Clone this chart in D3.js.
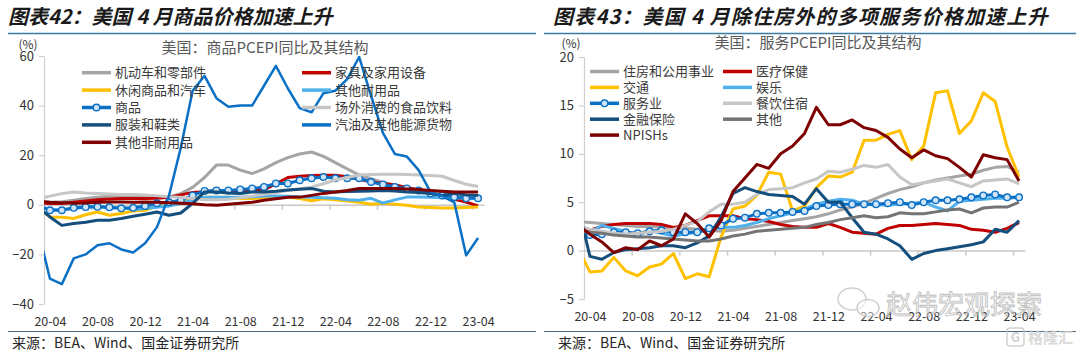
<!DOCTYPE html>
<html>

<head>
    <meta charset='utf-8'>
    <title>PCEPI</title>
    <script type='text/javascript' src='https://cdn.jsdelivr.net/npm/d3@7'></script>
    <style>
        body { margin: 0; background: #fff; }
        text { font-family: 'Noto Sans CJK SC', 'Liberation Sans', sans-serif; }
    </style>
</head>

<body>
    <svg width='1080' height='353'></svg>
    <script type='text/javascript'>

        // 月份（第一个 20-03 只用于左端被裁掉的线段）
        const months = ['20-03', '20-04', '20-05', '20-06', '20-07', '20-08', '20-09', '20-10', '20-11', '20-12',
            '21-01', '21-02', '21-03', '21-04', '21-05', '21-06', '21-07', '21-08', '21-09', '21-10', '21-11', '21-12',
            '22-01', '22-02', '22-03', '22-04', '22-05', '22-06', '22-07', '22-08', '22-09', '22-10', '22-11', '22-12',
            '23-01', '23-02', '23-03', '23-04']
        const xLabels = ['20-04', '20-08', '20-12', '21-04', '21-08', '21-12', '22-04', '22-08', '22-12', '23-04']

        // 图表42 商品
        const goodsTicks = [-40, -20, 0, 20, 40, 60]
        const motorVehicles = [1.5, 1.0, 1.2, 1.8, 2.5, 3.0, 3.5, 3.5, 3.5, 3.6, 3.4, 3.2, 4.5, 7.0, 11.0, 16.0, 16.0, 14.0, 12.6, 14.5, 17.0, 19.0, 20.5, 21.3, 19.5, 17.0, 14.5, 12.0, 10.5, 9.0, 8.0, 7.0, 6.0, 5.5, 5.0, 4.5, 4.0, 3.5]
        const furniture = [0.8, 0.5, 0.5, 1.0, 1.5, 2.0, 2.3, 2.5, 2.5, 2.5, 2.6, 3.0, 4.0, 5.0, 5.3, 5.5, 5.5, 5.6, 5.8, 6.0, 8.5, 11.0, 11.5, 11.8, 11.9, 11.9, 11.3, 10.3, 9.3, 8.6, 8.0, 7.0, 6.0, 4.5, 3.2, 2.2, 1.1, -0.5]
        const recGoods = [-1.0, -4.9, -5.0, -5.5, -4.0, -2.9, -4.2, -3.5, -2.5, -2.2, -0.5, 0.0, 0.6, 2.6, 3.0, 3.0, 3.0, 2.5, 2.5, 2.8, 3.0, 3.1, 2.5, 1.6, 2.4, 2.0, 1.5, 1.0, 0.2, 0.6, 0.2, -0.2, -0.9, -1.1, -1.3, -1.3, -1.1, -0.9]
        const otherDurables = [0.0, -2.0, -2.0, -1.5, -1.0, -0.5, -1.5, -1.0, -2.0, -1.5, -1.0, -0.5, 0.5, 2.0, 3.0, 3.0, 3.0, 3.0, 3.2, 3.5, 3.5, 3.4, 3.1, 3.0, 2.8, 2.6, 2.0, 1.8, 2.6, 0.7, 2.0, 3.1, 3.1, 3.0, 2.8, 2.6, 2.8, 2.6]
        const goods = [-0.5, -2.2, -2.2, -1.2, -0.9, -0.8, -1.0, -1.4, -1.2, -0.5, 0.6, 1.0, 1.8, 3.8, 5.6, 5.8, 5.8, 6.2, 6.6, 7.2, 8.6, 8.6, 9.9, 10.7, 11.2, 10.7, 10.7, 10.7, 9.2, 8.2, 7.2, 6.6, 5.8, 4.6, 3.8, 3.1, 2.6, 2.6]
        const foodOffPremises = [2.5, 3.5, 4.5, 5.2, 4.8, 4.6, 4.4, 4.2, 4.2, 4.0, 3.6, 3.2, 3.0, 2.5, 2.0, 2.0, 2.2, 2.8, 3.5, 4.2, 5.0, 5.8, 6.5, 7.2, 8.5, 10.0, 11.0, 12.0, 12.2, 12.3, 12.3, 12.2, 12.0, 11.8, 11.5, 9.8, 8.3, 7.4]
        const apparel = [-1.0, -4.9, -8.3, -7.5, -7.0, -6.2, -6.2, -5.5, -4.6, -3.8, -2.9, -4.2, -3.3, 0.6, 5.2, 5.2, 4.8, 4.6, 5.2, 5.2, 5.5, 6.0, 6.3, 6.6, 5.5, 5.2, 5.4, 5.5, 5.6, 5.8, 5.6, 5.2, 5.0, 4.6, 3.8, 4.6, 4.0, 3.8]
        const gasoline = [-10.0, -29.8, -32.0, -21.6, -20.0, -16.3, -15.5, -18.0, -19.2, -15.5, -9.0, 3.5, 23.0, 46.0, 52.0, 43.0, 39.5, 40.0, 40.0, 48.0, 56.0, 47.0, 39.0, 37.3, 45.0, 46.0, 50.7, 59.6, 44.0, 29.0, 20.5, 19.5, 14.0, 5.2, 3.5, 1.0, -20.4, -13.4]
        const otherNondurables = [1.5, 1.0, 0.8, 0.6, 0.7, 1.0, 1.1, 1.1, 1.0, 1.1, 1.0, 0.8, 0.6, 0.4, 0.0, -0.2, 0.2, 0.6, 1.0, 1.8, 2.4, 3.0, 3.1, 3.8, 4.6, 5.2, 5.8, 6.6, 6.6, 6.6, 6.6, 6.4, 6.2, 5.8, 5.5, 5.2, 5.2, 5.2]

        // 图表43 服务
        const servicesTicks = [-5, 0, 5, 10, 15, 20]
        const housing = [3.0, 2.9, 2.8, 2.7, 2.6, 2.5, 2.5, 2.4, 2.3, 2.3, 2.2, 2.1, 2.0, 2.1, 2.3, 2.5, 2.7, 2.9, 3.1, 3.3, 3.5, 3.8, 4.2, 4.5, 4.9, 5.4, 5.9, 6.3, 6.6, 7.0, 7.3, 7.5, 7.7, 7.9, 8.3, 8.6, 8.7, 8.1]
        const healthCare = [2.0, 2.1, 2.5, 2.7, 2.8, 2.8, 2.8, 2.7, 2.4, 2.6, 3.1, 3.6, 3.6, 3.6, 3.3, 3.2, 3.0, 2.7, 2.5, 2.4, 2.4, 2.8, 2.4, 1.9, 1.8, 1.7, 2.3, 2.6, 2.6, 2.7, 2.8, 2.7, 2.6, 2.2, 2.1, 1.9, 2.3, 2.9]
        const transport = [0.2, -2.2, -2.1, -0.7, -2.1, -2.6, -1.7, -1.4, -0.3, -2.9, -2.4, -2.7, 1.4, 4.3, 4.6, 5.7, 8.1, 7.9, 4.1, 4.6, 6.5, 7.7, 7.6, 8.1, 11.4, 11.4, 12.0, 12.4, 9.4, 10.8, 16.3, 16.5, 12.1, 13.4, 16.3, 15.4, 10.7, 7.6]
        const recreation = [1.8, 1.9, 2.6, 2.3, 2.0, 1.5, 2.1, 1.8, 1.5, 1.7, 1.9, 2.1, 2.4, 2.4, 2.6, 2.9, 3.3, 3.6, 3.9, 4.3, 4.8, 5.1, 5.3, 5.2, 4.8, 4.7, 4.7, 4.8, 4.9, 5.0, 4.5, 4.1, 5.1, 5.2, 5.3, 5.4, 5.4, 5.5]
        const services = [2.0, 1.6, 1.7, 1.9, 1.9, 1.8, 2.0, 2.1, 1.9, 1.9, 1.9, 2.3, 2.6, 3.3, 3.4, 3.8, 3.9, 3.9, 4.0, 4.1, 4.6, 4.7, 4.8, 4.8, 4.8, 4.8, 4.9, 5.0, 4.7, 5.0, 5.2, 5.2, 5.3, 5.5, 5.7, 5.8, 5.5, 5.5]
        const foodServices = [2.6, 2.2, 2.0, 1.8, 1.7, 1.8, 1.9, 2.0, 2.2, 2.6, 3.0, 4.0, 4.8, 4.8, 5.0, 5.8, 6.3, 6.4, 6.5, 7.0, 7.4, 8.2, 8.1, 8.4, 8.8, 8.6, 8.9, 7.6, 6.8, 7.0, 7.2, 7.4, 7.0, 6.6, 7.2, 7.3, 7.4, 6.9]
        const finance = [4.5, -0.6, -0.9, -0.2, 0.1, 0.2, 0.3, 0.5, 0.5, 0.3, 0.8, 1.5, 3.5, 5.9, 6.5, 6.1, 5.8, 5.7, 5.6, 4.8, 6.4, 5.0, 5.0, 3.4, 1.9, 1.7, 1.2, 0.5, -0.9, -0.3, 0.0, 0.2, 0.4, 0.6, 0.9, 2.2, 1.9, 3.1]
        const otherServices = [2.0, 1.9, 1.8, 1.6, 1.5, 1.4, 1.4, 1.3, 1.2, 1.1, 1.0, 1.0, 1.2, 1.5, 1.7, 2.0, 2.1, 2.2, 2.3, 2.4, 2.7, 2.9, 3.2, 3.4, 3.6, 3.4, 3.5, 3.9, 3.8, 3.8, 4.0, 4.2, 4.3, 3.9, 4.4, 4.5, 4.5, 5.0]
        const npish = [2.6, 1.7, 0.9, -0.2, 0.3, 0.1, 1.0, 0.5, 1.2, 3.8, 2.8, 1.4, 3.1, 6.1, 7.5, 8.9, 8.5, 10.0, 10.8, 12.1, 14.8, 13.0, 13.0, 13.5, 12.7, 12.4, 11.7, 10.5, 9.6, 10.4, 9.8, 9.5, 8.6, 7.6, 9.9, 9.6, 9.4, 7.2]

        const svg = d3.select('svg')

        // 颜色
        const c = {
            gray: '#a5a5a5', red: '#c00000', gold: '#ffc000', sky: '#4fb0ec', blue: '#0a70c6',
            silver: '#c6c6c6', navy: '#134e7c', darkRed: '#7f0000', dim: '#747474'
        }

        const panels = [
            {
                id: 'p42', left: 44, right: 484, top: 56, bottom: 304, yDomain: [-40, 60], yTicks: goodsTicks,
                title: '图表42：美国 4 月商品价格加速上升', titleX: 8, titleSpacing: 0, lineX: [8, 536],
                subtitle: '美国：商品PCEPI同比及其结构', subX: 265, subY: 53, unitX: 28, unitY: 49,
                legend: { x: 82, y: 72.7, colGap: 220, rowGap: 17.4 },
                source: 12,
                series: [
                    { name: '机动车和零部件', values: motorVehicles, color: c.gray },
                    { name: '家具及家用设备', values: furniture, color: c.red },
                    { name: '休闲商品和汽车', values: recGoods, color: c.gold },
                    { name: '其他耐用品', values: otherDurables, color: c.sky },
                    { name: '商品', values: goods, color: c.blue, marker: true },
                    { name: '场外消费的食品饮料', values: foodOffPremises, color: c.silver },
                    { name: '服装和鞋类', values: apparel, color: c.navy },
                    { name: '汽油及其他能源货物', values: gasoline, color: c.blue, width: 2.5 },
                    { name: '其他非耐用品', values: otherNondurables, color: c.darkRed }
                ]
            },
            {
                id: 'p43', left: 584, right: 1025, top: 57, bottom: 299, yDomain: [-5, 20], yTicks: servicesTicks,
                title: '图表43：美国 4 月除住房外的多项服务价格加速上升', titleX: 553, titleSpacing: 1.2, lineX: [544, 1076],
                subtitle: '美国：服务PCEPI同比及其结构', subX: 818, subY: 47.5, unitX: 571, unitY: 48,
                legend: { x: 590, y: 71.5, colGap: 133, rowGap: 15.9 },
                source: 558,
                series: [
                    { name: '住房和公用事业', values: housing, color: c.gray },
                    { name: '医疗保健', values: healthCare, color: c.red },
                    { name: '交通', values: transport, color: c.gold },
                    { name: '娱乐', values: recreation, color: c.sky },
                    { name: '服务业', values: services, color: c.blue, marker: true },
                    { name: '餐饮住宿', values: foodServices, color: c.silver },
                    { name: '金融保险', values: finance, color: c.navy },
                    { name: '其他', values: otherServices, color: c.dim },
                    { name: 'NPISHs', values: npish, color: c.darkRed }
                ]
            }
        ]

        panels.forEach(drawPanel)
        drawWatermark()

        function drawPanel(p) {
            const g = svg.append('g').attr('id', p.id)

            // 标题和分隔线
            g.append('text').attr('x', p.titleX).attr('y', 24)
                .attr('font-size', 20).attr('font-weight', 'bold').attr('font-style', 'italic')
                .attr('letter-spacing', p.titleSpacing)
                .attr('fill', '#1a1a1a').text(p.title)
            g.append('line').attr('x1', p.lineX[0]).attr('x2', p.lineX[1]).attr('y1', 33.5).attr('y2', 33.5)
                .attr('stroke', '#3b7aa3').attr('stroke-width', 1.5)
            g.append('line').attr('x1', p.lineX[0]).attr('x2', p.lineX[1]).attr('y1', 331.5).attr('y2', 331.5)
                .attr('stroke', '#4d6b80').attr('stroke-width', 1)
            g.append('text').attr('x', p.source).attr('y', 348).attr('font-size', 14).attr('fill', '#262626')
                .text('来源：BEA、Wind、国金证券研究所')

            g.append('text').attr('x', p.subX).attr('y', p.subY).attr('text-anchor', 'middle')
                .attr('font-size', 15).attr('fill', '#595959').text(p.subtitle)
            g.append('text').attr('x', p.unitX).attr('y', p.unitY).attr('text-anchor', 'middle')
                .attr('font-size', 12).attr('fill', '#333').text('(%)')

            const xScale = d3.scaleLinear([0.5, months.length - 0.5], [p.left, p.right])
            const yScale = d3.scaleLinear(p.yDomain, [p.bottom, p.top])

            // 纵轴
            const yAxis = d3.axisLeft(yScale).tickValues(p.yTicks).tickSize(5).tickPadding(5).tickSizeOuter(0)
            const gy = g.append('g').attr('transform', `translate(${p.left},0)`).call(yAxis)
            gy.selectAll('path, line').attr('stroke', '#d0d0d0').attr('stroke-width', 1.2)
            gy.selectAll('text').attr('font-size', 13).attr('fill', '#333').attr('font-family', 'Liberation Sans')

            // 横轴标签（放在绘图区下方）
            const labelIdx = xLabels.map(l => months.indexOf(l))
            const xAxis = d3.axisBottom(xScale).tickValues(labelIdx).tickFormat(i => months[i]).tickSize(0).tickPadding(13)
            const gx = g.append('g').attr('transform', `translate(0,${p.bottom})`).call(xAxis)
            gx.select('.domain').remove()
            gx.selectAll('text').attr('font-size', 12.5).attr('fill', '#333').attr('font-family', 'Liberation Sans')

            // 零线与刻度
            const bounds = d3.range(1, 10).map(k => 0.5 + 4 * k)
            const zeroAxis = d3.axisBottom(xScale).tickValues(bounds).tickSize(5).tickSizeOuter(0).tickFormat('')
            const gz = g.append('g').attr('transform', `translate(0,${yScale(0)})`).call(zeroAxis)
            gz.selectAll('path, line').attr('stroke', '#c8c8c8').attr('stroke-width', 1.5)

            // 折线
            g.append('clipPath').attr('id', p.id + 'clip').append('rect')
                .attr('x', p.left).attr('y', 0).attr('width', p.right - p.left + 8).attr('height', 353)
            const plot = g.append('g').attr('clip-path', `url(#${p.id}clip)`)
            const line = d3.line().x((d, i) => xScale(i)).y(d => yScale(d))

            p.series.forEach(s => {
                plot.append('path').datum(s.values)
                    .attr('d', line).attr('fill', 'none')
                    .attr('stroke', s.color).attr('stroke-width', s.width || 3)
                    .attr('stroke-linejoin', 'round')
                if (s.marker) {
                    plot.selectAll(null).data(s.values.slice(1)).enter().append('circle')
                        .attr('cx', (d, i) => xScale(i + 1)).attr('cy', d => yScale(d))
                        .attr('r', 3.3).attr('fill', '#cfe4f6').attr('stroke', s.color).attr('stroke-width', 1.4)
                }
            })

            // 图例（按行排列，两列）
            const lg = g.append('g')
            p.series.forEach((s, i) => {
                const lx = p.legend.x + (i % 2) * p.legend.colGap
                const ly = p.legend.y + Math.floor(i / 2) * p.legend.rowGap
                lg.append('line').attr('x1', lx).attr('x2', lx + 29).attr('y1', ly).attr('y2', ly)
                    .attr('stroke', s.color).attr('stroke-width', 3.5)
                if (s.marker) {
                    lg.append('circle').attr('cx', lx + 14.5).attr('cy', ly).attr('r', 3.3)
                        .attr('fill', '#cfe4f6').attr('stroke', s.color).attr('stroke-width', 1.4)
                }
                lg.append('text').attr('x', lx + 33).attr('y', ly).attr('dy', '0.35em')
                    .attr('font-size', 13).attr('fill', '#3a3a3a').text(s.name)
            })
        }

        // 水印
        function drawWatermark() {
            const w = svg.append('g').attr('opacity', 0.8)
            w.append('ellipse').attr('cx', 852).attr('cy', 299).attr('rx', 14).attr('ry', 11)
                .attr('fill', '#fff').attr('fill-opacity', 0.6).attr('stroke', '#c4c4c4').attr('stroke-width', 1.5)
            w.append('ellipse').attr('cx', 868).attr('cy', 308).attr('rx', 11).attr('ry', 8.5)
                .attr('fill', '#fff').attr('fill-opacity', 0.6).attr('stroke', '#c4c4c4').attr('stroke-width', 1.5)
            w.append('text').attr('x', 886).attr('y', 314).attr('font-size', 26)
                .attr('fill', '#fff').attr('fill-opacity', 0.6).attr('stroke', '#b0b0b0').attr('stroke-width', 0.9)
                .text('赵伟宏观探索')
            w.append('rect').attr('x', 1007).attr('y', 328).attr('width', 17).attr('height', 18).attr('rx', 3)
                .attr('fill', 'none').attr('stroke', '#c8c8c8').attr('stroke-width', 1.5)
            w.append('text').attr('x', 1015.5).attr('y', 342).attr('text-anchor', 'middle').attr('font-size', 13)
                .attr('font-weight', 'bold').attr('fill', '#c8c8c8').text('G')
            w.append('text').attr('x', 1028).attr('y', 343).attr('font-size', 15).attr('font-weight', 'bold')
                .attr('fill', '#d0d0d0').text('格隆汇')
        }
    </script>
</body>

</html>
